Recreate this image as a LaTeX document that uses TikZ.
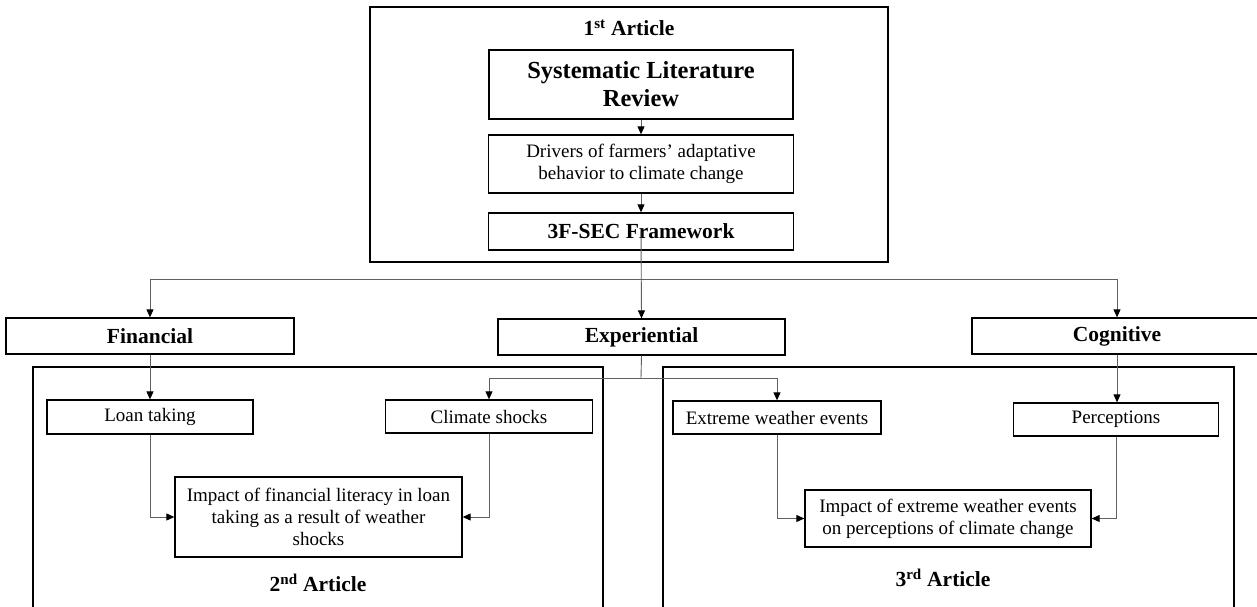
\documentclass[tikz,border=0pt]{standalone}
\usepackage{fontspec}
\setmainfont{Liberation Serif}
\usetikzlibrary{arrows.meta}
\tikzset{
  rtxt/.style={font=\fontsize{19}{22}\selectfont},
  btxt/.style={font=\fontsize{21.5}{25}\selectfont\bfseries},
  box/.style={draw=black, line width=1.3pt, inner sep=0pt, align=center},
  outerbox/.style={draw=black, line width=2.3pt, inner sep=0pt},
  conn/.style={draw=black!62, line width=0.9pt, -{Triangle[length=8pt,width=7pt,fill=black,color=black]}},
  plain/.style={draw=black!62, line width=0.9pt},
}
\begin{document}
\begin{tikzpicture}[x=1pt,y=-1pt]
\useasboundingbox (0,0) rectangle (1257,607);
\clip (0,0) rectangle (1257,607);
% outer frames
\node[outerbox, minimum width=518, minimum height=255] (art1) at (629,134.5) {};
\node[outerbox, minimum width=570, minimum height=253] (art2) at (318,493.5) {};
\node[outerbox, minimum width=571, minimum height=253] (art3) at (948.5,493.5) {};
% article labels
\node[btxt] (l1) at (629,28) {1\textsuperscript{st} Article};
\node[btxt] (l2) at (318,583) {2\textsuperscript{nd} Article};
\node[btxt] (l3) at (943,578) {3\textsuperscript{rd} Article};
% first article boxes
\node[box, minimum width=304, minimum height=69, font=\fontsize{24.5}{28}\selectfont\bfseries] (slr) at (641,84.5) {Systematic Literature\\Review};
\node[box, rtxt, minimum width=305, minimum height=58] (drv) at (641,164) {Drivers of farmers’ adaptative\\behavior to climate change};
\node[box, btxt, minimum width=305, minimum height=37] (fw) at (641,231.5) {3F-SEC Framework};
% three pillars
\node[box, btxt, minimum width=288, minimum height=36] (fin) at (150,336) {Financial};
\node[box, btxt, minimum width=287, minimum height=36] (exp) at (641.5,337) {Experiential};
\node[box, btxt, minimum width=290, minimum height=36] (cog) at (1117,336) {Cognitive};
% second level
\node[box, rtxt, minimum width=206, minimum height=34] (loan) at (150,417) {Loan taking};
\node[box, rtxt, minimum width=207, minimum height=33] (cs) at (489,416.5) {Climate shocks};
\node[box, rtxt, minimum width=208, minimum height=33] (ew) at (777,417.5) {Extreme weather events};
\node[box, rtxt, minimum width=205, minimum height=33] (per) at (1116,419.5) {Perceptions};
% impacts
\node[box, rtxt, minimum width=287, minimum height=80] (imp2) at (318.5,517) {Impact of financial literacy in loan\\taking as a result of weather\\shocks};
\node[box, rtxt, minimum width=286, minimum height=57] (imp3) at (948,518.5) {Impact of extreme weather events\\on perceptions of climate change};
% connectors
\coordinate (j1) at (641,279);
\coordinate (j2) at (641,378);
\draw[conn] (slr.south) -- (drv.north);
\draw[conn] (drv.south) -- (fw.north);
\draw[conn] (fw.center) -- (exp.north);
\draw[conn] (j1) -| (fin.north);
\draw[conn] (j1) -| (cog.north);
\draw[conn] (fin.south) -- (fin.south |- loan.north);
\draw[conn] (cog.south) -- (per.north -| cog.south);
\draw[plain] (exp.south) -- (j2);
\draw[conn] (j2) -| (cs.north);
\draw[conn] (j2) -| (ew.north);
\draw[conn] (loan.south) |- (imp2.west);
\draw[conn] (cs.south) |- (imp2.east);
\draw[conn] (ew.south) |- (imp3.west);
\draw[conn] (per.south) |- (imp3.east);
\end{tikzpicture}
\end{document}
